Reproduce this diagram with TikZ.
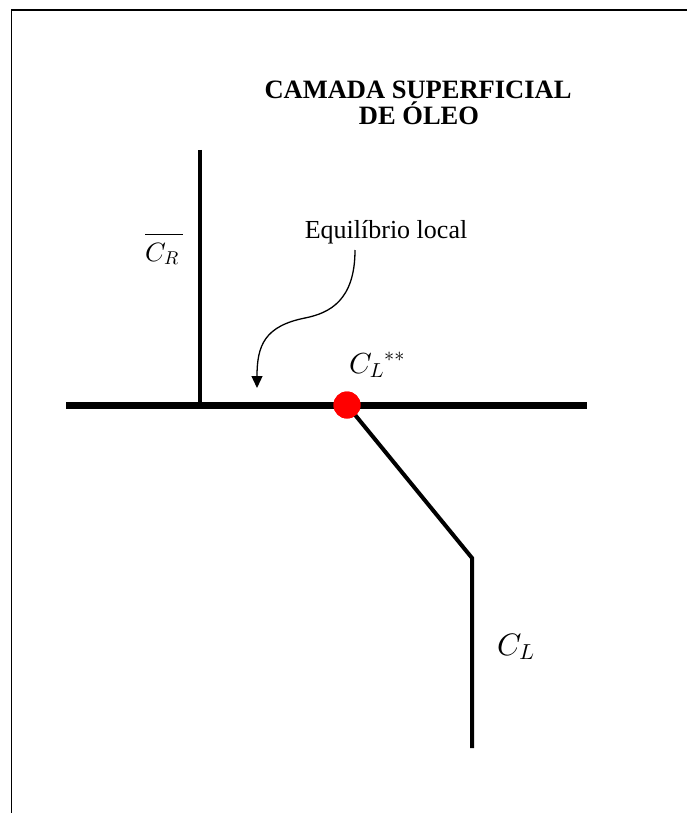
\documentclass[tikz,border=0pt]{standalone}
\DeclareFontFamily{OML}{cmm}{\skewchar\font'177}
\DeclareFontShape{OML}{cmm}{m}{it}{<-> cmmi10}{}
\DeclareFontFamily{OMS}{cmsy}{\skewchar\font'60}
\DeclareFontShape{OMS}{cmsy}{m}{n}{<-> cmsy10}{}
\usepackage{fontspec}
\setmainfont{Liberation Serif}
\usetikzlibrary{arrows.meta}
\begin{document}
\begin{tikzpicture}[x=1pt,y=-1pt,
  lbl/.style={inner sep=0pt, anchor=base west},
  ttl/.style={inner sep=0pt, anchor=base, font=\bfseries\fontsize{26.5}{27}\selectfont},
  frameline/.style={line width=1.5pt, black},
  surface/.style={line width=7pt},
  conc/.style={line width=4pt},
  callout/.style={line width=1.3pt, -{Triangle[length=12pt,width=11pt]}},
  eqpoint/.style={circle, fill=red, minimum size=27pt, inner sep=0pt}]
\useasboundingbox (0,0) rectangle (686,813);
% frame (cropped at right and bottom)
\coordinate (fBL) at (11.5,830);
\coordinate (fTL) at (11.5,10);
\coordinate (fTR) at (700,10);
\draw[frameline] (fBL) -- (fTL) -- (fTR);
% title
\node[ttl] (title1) at (418,98.3) {CAMADA SUPERFICIAL};
\node[ttl] (title2) at (419,125) {DE ÓLEO};
% geometry
\coordinate (sL) at (66,405);
\coordinate (sR) at (587,405);
\coordinate (rTop) at (200,150);
\coordinate (rBot) at (200,405);
\coordinate (bend) at (472,558);
\coordinate (lBot) at (472,748);
\draw[surface] (sL) -- (sR);
\draw[conc] (rTop) -- (rBot);
\node[eqpoint] (dot) at (347,405) {};
\draw[conc, line join=miter] (dot.center) -- (bend) -- (lBot);
\node[eqpoint] at (dot.center) {};
% labels
\node[lbl, font=\fontsize{26.5}{30}\selectfont] (cr) at (145,261) {$\overline{\rule{0pt}{25.5pt}C_R\,}$};
\node[lbl, font=\fontsize{29}{34}\selectfont] (cls) at (349,373) {${C_L}^{**}$};
\node[lbl, font=\fontsize{31}{36}\selectfont] (cl) at (497,655) {$C_L$};
% annotation
\node[inner sep=0pt, anchor=base, font=\fontsize{26}{30}\selectfont] (eq) at (386,238) {Equilíbrio local};
\coordinate (a0) at (355,250);
\coordinate (a1) at (257,388);
\draw[callout] (a0) .. controls (355,300) and (330,313) .. (305,318) .. controls (265,326) and (257,345) .. (a1);
\end{tikzpicture}
\end{document}
